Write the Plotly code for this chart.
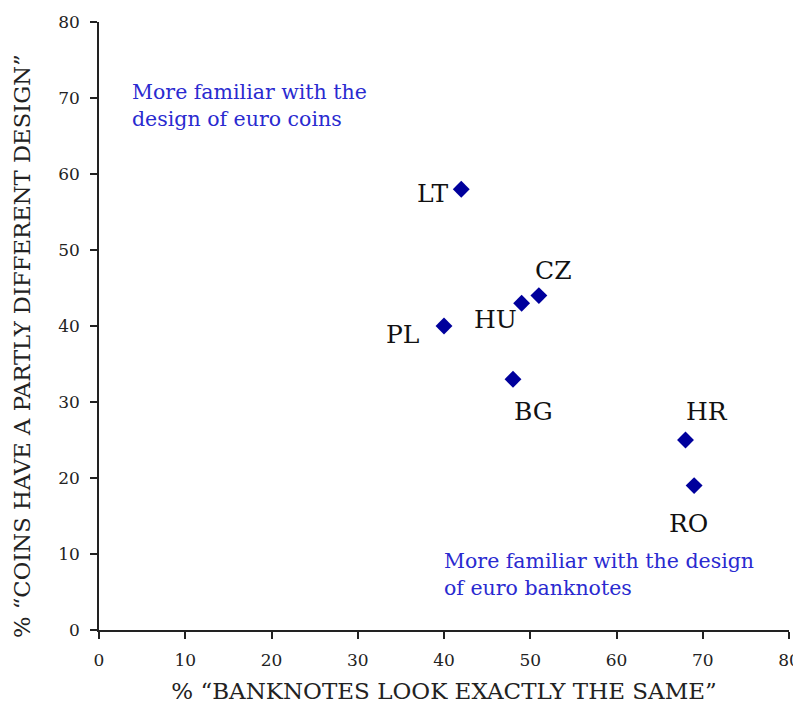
import plotly.graph_objects as go

countries = ["LT", "CZ", "HU", "PL", "BG", "HR", "RO"]
banknotes_same = [42, 51, 49, 40, 48, 68, 69]
coins_different = [58, 44, 43, 40, 33, 25, 19]

x_ticks = [0, 10, 20, 30, 40, 50, 60, 70, 80]
y_ticks = [0, 10, 20, 30, 40, 50, 60, 70, 80]

# label offsets in pixels (style)
label_dx = [-28, 15, -26, -42, 20, 21, -6]
label_dy = [-4, 25, -16, -8, -32, 29, -38]

serif = "DejaVu Serif"

fig = go.Figure()
fig.add_trace(go.Scatter(
    x=banknotes_same, y=coins_different, mode="markers",
    marker=dict(symbol="diamond", size=13, color="#00009c"),
    hoverinfo="text", text=countries, showlegend=False,
))

for c, xv, yv, dx, dy in zip(countries, banknotes_same, coins_different, label_dx, label_dy):
    fig.add_annotation(x=xv, y=yv, text=c, showarrow=False, xshift=dx, yshift=dy,
                       font=dict(family=serif, size=25, color="#111111"))

fig.add_annotation(x=0, y=1, xref="paper", yref="paper", text="More familiar with the<br>design of euro coins",
                   showarrow=False, xanchor="left", yanchor="top", align="left", xshift=31, yshift=-56,
                   font=dict(family=serif, size=20.5, color="#2a2ad0"))
fig.add_annotation(x=0, y=0, xref="paper", yref="paper", text="More familiar with the design<br>of euro banknotes",
                   showarrow=False, xanchor="left", yanchor="top", align="left", xshift=343, yshift=83,
                   font=dict(family=serif, size=20.5, color="#2a2ad0"))

# y-axis title as rotated annotation
fig.add_annotation(x=0, y=0.5, xref="paper", yref="paper", text="% “COINS HAVE A PARTLY DIFFERENT DESIGN”",
                   textangle=-90, showarrow=False, xanchor="center", yanchor="middle", xshift=-77, yshift=-20,
                   font=dict(family=serif, size=22.7, color="#222222"))

axis_common = dict(
    showgrid=False, zeroline=False, showline=True, linecolor="#222222", linewidth=1.5,
    ticks="outside", ticklen=7, tickcolor="#222222", tickwidth=1.5,
    tickfont=dict(family=serif, size=17, color="#222222"), range=[0, 80],
)

fig.update_xaxes(**axis_common, tickvals=x_ticks, ticktext=[str(v) for v in x_ticks], ticklabelstandoff=7,
                 title=dict(text="% “BANKNOTES LOOK EXACTLY THE SAME”", font=dict(family=serif, size=23, color="#222222"), standoff=14))
fig.update_yaxes(**axis_common, tickvals=y_ticks, ticktext=[str(v) for v in y_ticks], ticklabelstandoff=7)

fig.update_layout(
    width=793, height=700, plot_bgcolor="white", paper_bgcolor="white",
    margin=dict(l=91, r=12, t=14, b=78, autoexpand=False),
)

fig.write_html("out.html")
